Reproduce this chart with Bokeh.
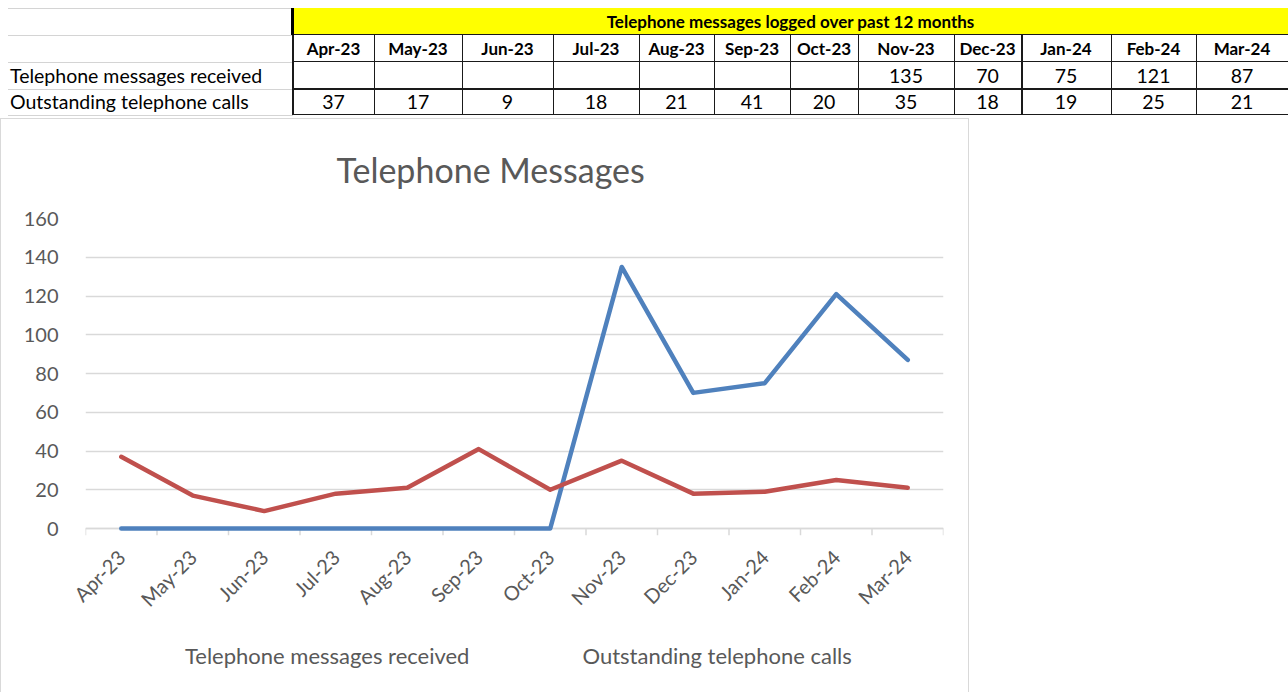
from bokeh.plotting import figure
from bokeh.models import (FactorRange, Range1d, Legend, LegendItem, SingleIntervalTicker, Div)
from bokeh.layouts import column
from bokeh.embed import file_html
from bokeh.resources import INLINE
import math

# ---------------- data ----------------
months = ["Apr-23", "May-23", "Jun-23", "Jul-23", "Aug-23", "Sep-23",
          "Oct-23", "Nov-23", "Dec-23", "Jan-24", "Feb-24", "Mar-24"]
received = [None, None, None, None, None, None, None, 135, 70, 75, 121, 87]
outstanding = [37, 17, 9, 18, 21, 41, 20, 35, 18, 19, 25, 21]
table_title = "Telephone messages logged over past 12 months"
row_labels = ["Telephone messages received", "Outstanding telephone calls"]
chart_title = "Telephone  Messages"
y_min, y_max, y_step = 0, 160, 20

# ---------------- style ----------------
FONT = "Lato"
TXT = "#595959"
GRID = "#d9d9d9"
BLUE = "#4F81BD"
RED = "#C0504D"

# ---------------- spreadsheet table (HTML) ----------------
col_edges = [293, 374, 462, 553, 639, 714, 790, 858, 954, 1021, 1111, 1196, 1288]
row_edges = [8, 35, 62, 89, 115]


def rect_html(l, t, w, h, color):
    return (f'<div style="position:absolute;left:{l}px;top:{t}px;width:{w}px;'
            f'height:{h}px;background:{color};"></div>')


def text_html(l, t, w, h, s, size, weight="normal", align="center"):
    return (f'<div style="position:absolute;left:{l}px;top:{t}px;width:{w}px;height:{h}px;'
            f'line-height:{h}px;font-size:{size}px;font-weight:{weight};text-align:{align};'
            f'white-space:nowrap;color:#000000;">{s}</div>')


parts = []
for y in row_edges:
    parts.append(rect_html(8, y, 285, 1, "#d4d4d4"))
parts.append(rect_html(293, row_edges[0], col_edges[-1] - 293, row_edges[1] - row_edges[0], "#FFFF00"))
for y, th in zip(row_edges[1:], [1, 1, 2, 1]):
    parts.append(rect_html(293, y - 1, col_edges[-1] - 293, th, "#1a1a1a"))
for x, m in zip(col_edges[1:-1], months[1:]):
    w = 2 if m == "Jan-24" else 1
    parts.append(rect_html(x, row_edges[1], w, row_edges[-1] - row_edges[1], "#1a1a1a"))
parts.append(rect_html(291, row_edges[0], 3, row_edges[1] - row_edges[0], "#000000"))
parts.append(rect_html(292, row_edges[1], 2, row_edges[-1] - row_edges[1], "#1a1a1a"))

parts.append(text_html(293, row_edges[0], col_edges[-1] - 293, row_edges[1] - row_edges[0],
                       table_title, 17, "bold"))
for i, m in enumerate(months):
    l, r = col_edges[i], col_edges[i + 1]
    parts.append(text_html(l, row_edges[1], r - l, row_edges[2] - row_edges[1], m, 17, "bold"))
    if received[i] is not None:
        parts.append(text_html(l, row_edges[2], r - l, row_edges[3] - row_edges[2],
                               str(received[i]), 19.5))
    parts.append(text_html(l, row_edges[3], r - l, row_edges[4] - row_edges[3],
                           str(outstanding[i]), 19.5))
parts.append(text_html(10, row_edges[2], 280, row_edges[3] - row_edges[2], row_labels[0], 19.5,
                       align="left"))
parts.append(text_html(10, row_edges[3], 280, row_edges[4] - row_edges[3], row_labels[1], 19.5,
                       align="left"))

table_html = (f'<div style="position:relative;width:1288px;height:118px;'
              f'font-family:{FONT},sans-serif;">' + "".join(parts) + '</div>')
table = Div(text=table_html, width=1288, height=118, margin=(0, 0, 0, 0))

# ---------------- chart ----------------
TICK = 3.6  # tick mark length in data units below zero
p = figure(width=969, height=512, x_range=FactorRange(*months),
           y_range=Range1d(y_min - TICK, y_max),
           output_backend="svg", toolbar_location=None,
           min_border_left=84, min_border_right=27, min_border_top=99, min_border_bottom=96,
           title=chart_title)
p.styles = {"border-left": "1.5px solid #d9d9d9", "border-right": "1.5px solid #d9d9d9",
            "border-top": "1.5px solid #d9d9d9", "box-sizing": "border-box"}
p.outline_line_color = None
p.title.text_font = FONT
p.title.text_font_size = "34px"
p.title.text_font_style = "normal"
p.title.text_color = TXT
p.title.align = "left"
p.title.offset = 251
p.title.vertical_align = "top"
p.title.standoff = 54

p.xaxis.axis_line_color = None
p.xaxis.major_tick_line_color = None
p.xaxis.minor_tick_line_color = None
p.xaxis.major_label_orientation = math.pi / 4
p.xaxis.major_label_text_font = FONT
p.xaxis.major_label_text_font_size = "20px"
p.xaxis.major_label_text_color = TXT
p.xaxis.major_label_standoff = 12

p.yaxis.ticker = SingleIntervalTicker(interval=y_step)
p.yaxis.axis_line_color = None
p.yaxis.major_tick_line_color = None
p.yaxis.minor_tick_line_color = None
p.yaxis.major_label_text_font = FONT
p.yaxis.major_label_text_font_size = "20px"
p.yaxis.major_label_text_color = TXT
p.yaxis.major_label_standoff = 21
p.xgrid.visible = False
p.ygrid.grid_line_color = GRID
p.ygrid.grid_line_width = 1.5
p.ygrid.ticker = SingleIntervalTicker(interval=y_step)

# category axis line + tick marks between categories
bounds = [(m, -0.5) for m in months] + [(months[-1], 0.5)]
p.segment(x0=bounds, y0=[y_min] * len(bounds), x1=bounds, y1=[y_min - TICK] * len(bounds),
          line_color=GRID, line_width=1.5)
p.segment(x0=[bounds[0]], y0=[y_min], x1=[bounds[-1]], y1=[y_min],
          line_color=GRID, line_width=1.5)

recv_plot = [0 if v is None else v for v in received]
p.line(x=months, y=recv_plot, line_color=BLUE, line_width=4.5,
       line_join="round", line_cap="round")
p.line(x=months, y=outstanding, line_color=RED, line_width=4.5,
       line_join="round", line_cap="round")

# ---------------- legend strip (bottom of chart box) ----------------
lf = figure(width=969, height=62, x_range=Range1d(0, 1), y_range=Range1d(0, 1),
            output_backend="svg", toolbar_location=None,
            x_axis_type=None, y_axis_type=None,
            min_border_left=84, min_border_right=27, min_border_top=0, min_border_bottom=0)
lf.grid.visible = False
lf.outline_line_color = None
lf.styles = {"border-left": "1.5px solid #d9d9d9", "border-right": "1.5px solid #d9d9d9",
             "box-sizing": "border-box"}
k1 = lf.line(x=[], y=[], line_color=BLUE, line_width=4.5, line_cap="round")
k2 = lf.line(x=[], y=[], line_color=RED, line_width=4.5, line_cap="round")
legend = Legend(items=[LegendItem(label=row_labels[0], renderers=[k1]),
                       LegendItem(label=row_labels[1], renderers=[k2])],
                orientation="horizontal", location=(43, 23),
                label_text_font=FONT, label_text_font_size="22px", label_text_color=TXT,
                glyph_width=54, glyph_height=24, label_standoff=3, spacing=56,
                padding=0, margin=0, border_line_color=None, background_fill_alpha=0)
lf.add_layout(legend, "center")

layout = column(table, p, lf, spacing=0)
open("out.html", "w").write(file_html(layout, INLINE))
